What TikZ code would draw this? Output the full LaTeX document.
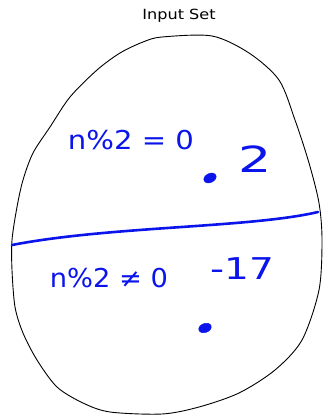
\documentclass[tikz,border=0pt]{standalone}
\usepackage{fontspec}
\setsansfont{DejaVu Sans}
\usepackage{tikz}
\usetikzlibrary{shapes.geometric,positioning,calc}
\definecolor{penblue}{RGB}{10,20,235}

\begin{document}
\begin{tikzpicture}[x=1pt,y=-1pt,
  pen/.style={penblue,line width=2.6pt,line cap=round,line join=round},
  hand/.style={penblue,font=\sffamily\fontsize{26}{26}\selectfont,inner sep=0pt},
  blob/.style={ellipse,fill=penblue,draw=penblue,inner sep=0pt,minimum width=13pt,minimum height=9pt,rotate=25}]
  \useasboundingbox (0,0) rectangle (324,417);
  % the set
  \draw[black,line width=0.9pt] plot[smooth cycle,tension=0.5] coordinates {
    (162,37) (212,36) (249,53) (279,80) (295,120) (309,163) (319,203)
    (322,240) (319,290) (302,340) (275,370) (239,393) (199,407) (162,414)
    (110,412) (83,403) (57,387) (37,360) (23,333) (15,307) (12,270)
    (12,240) (17,207) (23,180) (33,153) (50,127) (70,97) (97,70)
    (120,53) (143,42)};
  \node[font=\sffamily\fontsize{14}{14}\selectfont,anchor=south,xscale=1.15] (title) at (179,26) {Input Set};
  % split line
  \coordinate (cutL) at (12,245);
  \coordinate (cutR) at (318,212);
  \draw[pen] (cutL) .. controls (110,226) and (250,228) .. (cutR);
  % even part
  \node[hand,xscale=1.12] (evenlbl) at (131,140) {n\%2 = 0};
  \node[hand,font=\sffamily\fontsize{36}{36}\selectfont,xscale=1.45] (two) at (255,159) {2};
  \node[blob] (twodot) at (210,178) {};
  % odd part
  \node[hand,xscale=1.05] (oddlbl) at (109,278) {n\%2 ≠ 0};
  \node[hand,font=\sffamily\fontsize{30}{30}\selectfont,xscale=1.3] (minus) at (242,269) {-17};
  \node[blob,rotate=-5] (minusdot) at (205,328) {};
\end{tikzpicture}
\end{document}
